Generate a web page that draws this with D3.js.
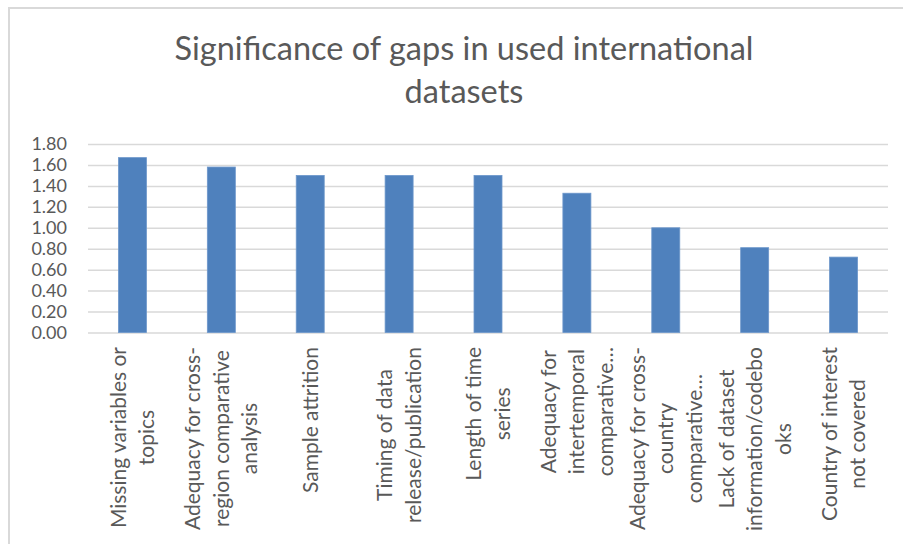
<!DOCTYPE html>
<html>
<head>
<meta charset="utf-8">
<script src="https://cdn.jsdelivr.net/npm/d3@7"></script>
<style>
  body { margin: 0; background: #fff; }
  svg { display: block; font-family: Lato, "Open Sans", sans-serif; }
</style>
</head>
<body>
<script>
var svgW = 903;
var svgH = 544;

var titleLines = ["Significance of gaps in used international", "datasets"];

// each category is already wrapped the way the chart shows it
var categories = [
  ["Missing variables or", "topics"],
  ["Adequacy for cross-", "region comparative", "analysis"],
  ["Sample attrition"],
  ["Timing of data", "release/publication"],
  ["Length of time", "series"],
  ["Adequacy for", "intertemporal", "comparative\u2026"],
  ["Adequacy for cross-", "country", "comparative\u2026"],
  ["Lack of dataset", "information/codebo", "oks"],
  ["Country of interest", "not covered"]
];
var values = [1.67, 1.58, 1.50, 1.50, 1.50, 1.33, 1.00, 0.81, 0.72];
var yTicks = [0, 0.2, 0.4, 0.6, 0.8, 1.0, 1.2, 1.4, 1.6, 1.8];

var plotL = 88, plotR = 888, plotT = 144, plotB = 332.5;
var gray = "#595959";
var barColor = "#4f81bd";

var svg = d3.select("body")
  .append("svg")
  .attr("width", svgW)
  .attr("height", svgH);

// chart frame (only top and left edge show in the crop)
svg.append("rect")
  .attr("x", 9)
  .attr("y", 8)
  .attr("width", svgW + 20)
  .attr("height", svgH + 20)
  .attr("fill", "none")
  .attr("stroke", "#d9d9d9")
  .attr("stroke-width", 2);

var x = d3.scaleBand()
  .domain(d3.range(categories.length))
  .range([plotL, plotR])
  .paddingInner(0.685)
  .paddingOuter(0.3425);

var y = d3.scaleLinear()
  .domain([0, 1.8])
  .range([plotB, plotT]);

// title
svg.append("text")
  .attr("text-anchor", "middle")
  .attr("font-size", "32.5px")
  .attr("fill", gray)
  .selectAll("tspan")
  .data(titleLines)
  .enter()
  .append("tspan")
  .attr("x", 464)
  .attr("y", function(d, i) { return 60 + i * 43; })
  .text(function(d) { return d; });

// gridlines + y labels
var yAxis = d3.axisLeft(y)
  .tickValues(yTicks)
  .tickSize(-(plotR - plotL))
  .tickPadding(21)
  .tickFormat(d3.format(".2f"));

var gy = svg.append("g")
  .attr("transform", "translate(" + plotL + ",0)")
  .call(yAxis);
gy.select(".domain").remove();
gy.selectAll(".tick line")
  .attr("stroke", "#d9d9d9")
  .attr("stroke-width", 1.5);
gy.selectAll(".tick text")
  .attr("fill", gray)
  .attr("font-size", "18px")
  .attr("font-family", "Lato, sans-serif");

// bars
svg.selectAll("rect.bar")
  .data(values)
  .enter()
  .append("rect")
  .attr("class", "bar")
  .attr("x", function(d, i) { return x(i); })
  .attr("y", function(d) { return y(d); })
  .attr("width", x.bandwidth())
  .attr("height", function(d) { return plotB - y(d); })
  .attr("fill", barColor)
  .attr("stroke", "#6d97cb")
  .attr("stroke-width", 0.8);

// category labels, rotated, lines centred on the longest one
var lineH = 28.5;
var labelTop = 347;
var lab = svg.append("g")
  .attr("font-size", "21px")
  .attr("fill", gray);

categories.forEach(function(lines, i) {
  var cx = x(i) + x.bandwidth() / 2;
  var g = lab.append("g");
  var texts = g.selectAll("text")
    .data(lines)
    .enter()
    .append("text")
    .attr("text-anchor", "middle")
    .attr("dy", "0.35em")
    .text(function(d) { return d; });
  var maxLen = d3.max(texts.nodes(), function(n) { return n.getComputedTextLength(); });
  var yc = labelTop + maxLen / 2;
  texts.attr("transform", function(d, j) {
    var lx = cx + (j - (lines.length - 1) / 2) * lineH;
    return "translate(" + lx + "," + yc + ") rotate(-90)";
  });
});
</script>
</body>
</html>
